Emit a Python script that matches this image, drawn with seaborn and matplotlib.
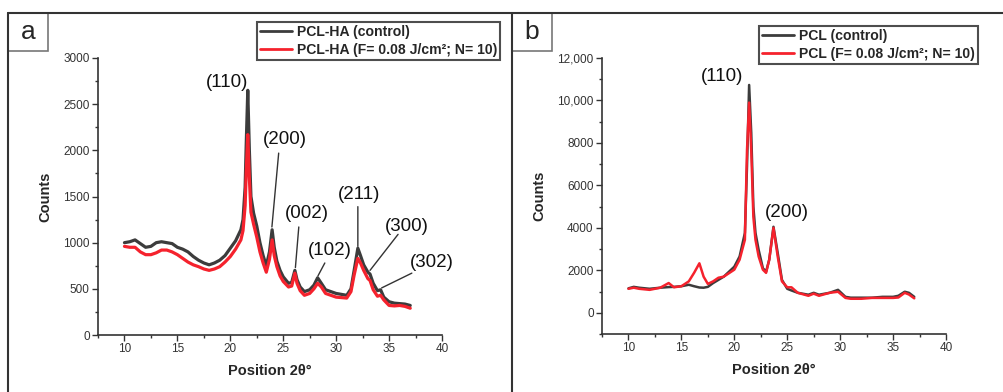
import matplotlib
matplotlib.use("Agg")
import matplotlib.pyplot as plt
import seaborn as sns
import pandas as pd
import numpy as np
from matplotlib.lines import Line2D
from matplotlib.patches import Rectangle
from matplotlib.ticker import MultipleLocator, FixedLocator

# XRD patterns
# panel a: PCL-HA
theta_a = [10.0, 10.5, 11.0, 11.5, 12.0, 12.5, 13.0, 13.5, 14.0, 14.5, 15.0, 15.5,
           16.0, 16.5, 17.0, 17.5, 18.0, 18.5, 19.0, 19.5, 20.0, 20.5, 21.0, 21.2,
           21.4, 21.5, 21.65, 21.8, 21.95, 22.2, 22.5, 22.8, 23.1, 23.4, 23.7, 23.95,
           24.15, 24.4, 24.7, 25.0, 25.5, 25.8, 26.1, 26.3, 26.6, 27.0, 27.5, 27.9,
           28.25, 28.6, 29.0, 29.5, 30.0, 30.5, 31.0, 31.4, 31.7, 32.05, 32.3, 32.6,
           33.0, 33.2, 33.5, 33.9, 34.2, 34.5, 35.0, 35.5, 36.0, 36.5, 37.0]
pclha_control = [1000, 1010, 1030, 990, 950, 960, 1000, 1010, 1000, 990, 950, 930,
                 900, 850, 810, 780, 760, 780, 810, 860, 940, 1020, 1140, 1250,
                 1600, 2050, 2650, 2000, 1500, 1320, 1180, 1000, 860, 750, 900, 1140,
                 950, 800, 700, 630, 560, 570, 700, 600, 520, 470, 490, 540,
                 620, 560, 490, 470, 450, 440, 430, 500, 700, 940, 860, 760,
                 680, 660, 560, 480, 490, 410, 360, 345, 340, 335, 320]
pclha_laser = [960, 950, 950, 900, 870, 870, 890, 920, 920, 900, 870, 830,
               790, 760, 740, 715, 700, 715, 740, 790, 850, 930, 1030, 1130,
               1400, 1750, 2170, 1700, 1330, 1200, 1060, 900, 780, 680, 820, 1030,
               860, 740, 640, 580, 520, 530, 670, 560, 480, 430, 450, 500,
               560, 520, 450, 430, 410, 405, 400, 470, 650, 830, 780, 700,
               610, 590, 490, 420, 430, 380, 320, 315, 320, 310, 290]

# panel b: PCL
theta_b = [10.0, 10.5, 11.0, 12.0, 13.0, 13.8, 14.3, 15.0, 15.7, 16.2, 16.7, 17.1,
           17.5, 18.0, 18.5, 19.0, 20.0, 20.5, 21.0, 21.2, 21.4, 21.6, 21.8, 22.0,
           22.3, 22.7, 23.0, 23.3, 23.7, 24.1, 24.5, 25.0, 25.4, 26.0, 27.0, 27.5,
           28.0, 29.0, 29.8, 30.5, 31.0, 32.0, 33.0, 34.0, 35.0, 35.5, 36.1, 36.5, 37.0]
pcl_control = [1150, 1220, 1180, 1130, 1180, 1210, 1220, 1250, 1320, 1250, 1190, 1180,
               1220, 1400, 1550, 1700, 2170, 2650, 3760, 6900, 10730, 8470, 5000, 3760,
               2960, 2100, 1930, 2500, 4050, 2820, 1550, 1130, 1050, 940, 850, 940,
               850, 940, 1080, 750, 710, 710, 710, 750, 750, 800, 990, 940, 750]
pcl_laser = [1130, 1180, 1130, 1080, 1180, 1400, 1200, 1250, 1480, 1880, 2330, 1700,
             1360, 1480, 1650, 1700, 2030, 2500, 3440, 7670, 9900, 7670, 4520, 3440,
             2650, 2030, 1880, 2500, 4000, 2650, 1480, 1200, 1200, 940, 800, 900,
             800, 940, 990, 700, 660, 660, 700, 700, 700, 720, 940, 860, 680]

labels_a = ["PCL-HA (control)", "PCL-HA (F= 0.08 J/cm²; N= 10)"]
labels_b = ["PCL (control)", "PCL (F= 0.08 J/cm²; N= 10)"]

yticks_b = [0, 2000, 4000, 6000, 8000, 10000, 12000]
yticklabels_b = ["0", "2000", "4000", "6000", "8000", "10,000", "12,000"]

# hkl labels: (text, text pos, leader start, leader end) in data coords
hkl_a = [("(110)", (19.65, 2740), None, None),
         ("(200)", (25.15, 2120), (24.57, 1970), (23.93, 1170)),
         ("(002)", (27.25, 1320), (26.47, 1170), (26.15, 730)),
         ("(102)", (29.4, 920), (28.93, 780), (28.28, 640)),
         ("(211)", (32.15, 1520), (32.05, 1390), (32.05, 960)),
         ("(300)", (36.7, 1180), (35.85, 1090), (33.2, 700)),
         ("(302)", (39.05, 780), (37.15, 670), (34.3, 510))]
hkl_b = [("(110)", (18.8, 11150)), ("(200)", (24.98, 4740))]

BLACK = "#3c3c3c"
RED = "#f5222d"

sns.set_style("ticks")
plt.rcParams["font.family"] = ["Liberation Sans", "DejaVu Sans"]

fig = plt.figure(figsize=(10.04, 3.92), dpi=100)
W, H = 1004, 392


def fx(px):
    return px / W


def fy(py):
    return 1 - py / H


ax_a = fig.add_axes([fx(98), fy(335), fx(442) - fx(98), fy(58) - fy(335)])
ax_b = fig.add_axes([fx(602), fy(334), fx(946) - fx(602), fy(58) - fy(334)])

df_a = pd.DataFrame({"theta": theta_a * 2,
                     "counts": pclha_control + pclha_laser,
                     "sample": [labels_a[0]] * len(theta_a) + [labels_a[1]] * len(theta_a)})
df_b = pd.DataFrame({"theta": theta_b * 2,
                     "counts": pcl_control + pcl_laser,
                     "sample": [labels_b[0]] * len(theta_b) + [labels_b[1]] * len(theta_b)})

sns.lineplot(data=df_a, x="theta", y="counts", hue="sample", ax=ax_a,
             palette=[BLACK, RED], linewidth=2.3, sort=False, estimator=None)
sns.lineplot(data=df_b, x="theta", y="counts", hue="sample", ax=ax_b,
             palette=[BLACK, RED], linewidth=1.8, sort=False, estimator=None)

for ax in (ax_a, ax_b):
    ax.set_xlim(7.5, 40)
    ax.xaxis.set_major_locator(FixedLocator([10, 15, 20, 25, 30, 35, 40]))
    ax.xaxis.set_minor_locator(MultipleLocator(2.5))
    sns.despine(ax=ax)
    for s in ("left", "bottom"):
        ax.spines[s].set_linewidth(1.2)
        ax.spines[s].set_color("#333333")
    ax.tick_params(which="major", direction="out", length=4, width=1,
                   color="#333333", labelsize=8.5, labelcolor="#333333", pad=2)
    ax.tick_params(which="minor", direction="out", length=2.5, width=1, color="#333333")
    ax.set_xlabel("Position 2θ°", fontsize=10.5, fontweight="bold", labelpad=6)
    ax.set_ylabel("Counts", fontsize=10.5, fontweight="bold", labelpad=8)
    ax.set_facecolor("none")

ax_a.set_ylim(0, 3000)
ax_a.yaxis.set_major_locator(MultipleLocator(500))
ax_a.yaxis.set_minor_locator(MultipleLocator(250))
ax_b.set_ylim(-1000, 12000)
ax_b.set_yticks(yticks_b)
ax_b.set_yticklabels(yticklabels_b)
ax_b.yaxis.set_minor_locator(MultipleLocator(1000))

for txt, pos, p0, p1 in hkl_a:
    ax_a.text(pos[0], pos[1], txt, fontsize=13.5, ha="center", va="center", color="#111111")
    if p0 is not None:
        ax_a.annotate("", xy=p1, xytext=p0,
                      arrowprops=dict(arrowstyle="-", color="#333333", lw=1,
                                      shrinkA=0, shrinkB=0))
for txt, pos in hkl_b:
    ax_b.text(pos[0], pos[1], txt, fontsize=13.5, ha="center", va="center", color="#111111")

for ax, anchor in ((ax_a, (fx(500), fy(22))), (ax_b, (fx(978), fy(26)))):
    leg = ax.legend(loc="upper right", bbox_to_anchor=anchor, bbox_transform=fig.transFigure,
                    frameon=True, fancybox=False, borderaxespad=0, borderpad=0.2,
                    handlelength=2.3, handletextpad=0.35, labelspacing=0.3,
                    prop={"size": 10.1, "weight": "bold"})
    leg.get_frame().set_edgecolor("#222222")
    leg.get_frame().set_linewidth(1.5)
    for line in leg.get_lines():
        line.set_linewidth(2)

# outer frames and panel letters
frame_kw = dict(transform=fig.transFigure, color="#333333", linewidth=1.5)
fig.add_artist(Line2D([fx(8), 1], [fy(13), fy(13)], **frame_kw))
fig.add_artist(Line2D([fx(8), fx(8)], [fy(13), 0], **frame_kw))
fig.add_artist(Line2D([fx(512), fx(512)], [fy(13), 0], **frame_kw))
for x0, letter in ((8, "a"), (512, "b")):
    fig.add_artist(Rectangle((fx(x0), fy(51)), fx(40), fy(13) - fy(51),
                             transform=fig.transFigure, fill=False,
                             edgecolor="#777777", linewidth=1.2))
    fig.text(fx(x0 + 20), fy(32), letter, fontsize=19, ha="center", va="center")

fig.savefig("out.png", dpi=100)
